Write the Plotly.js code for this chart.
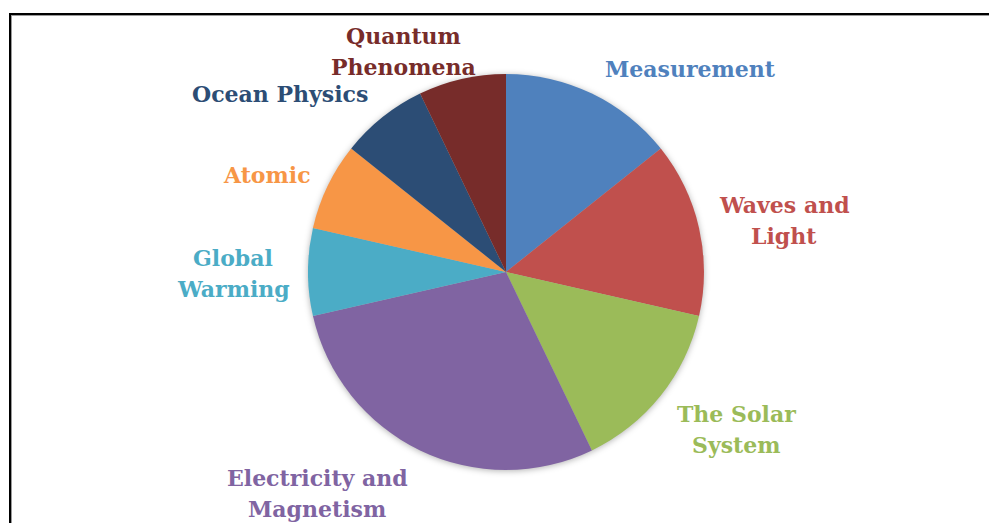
<!DOCTYPE html>
<html>
<head>
<meta charset="utf-8">
<script src="https://cdn.plot.ly/plotly-3.0.1.min.js"></script>
<style>
  html, body { margin: 0; padding: 0; background: #ffffff; }
  #chart { width: 989px; height: 523px; }
  #chart .pielayer { filter: drop-shadow(0px 1px 3px rgba(0,0,0,0.30)); }
</style>
</head>
<body>
<div id="chart"></div>
<script>
// ---- data ----
var categories = ["Measurement", "Waves and Light", "The Solar System", "Electricity and Magnetism",
                  "Global Warming", "Atomic", "Ocean Physics", "Quantum Phenomena"];
var displayLabels = ["Measurement", "Waves and<br>Light", "The Solar<br>System", "Electricity and<br>Magnetism",
                     "Global<br>Warming", "Atomic", "Ocean Physics", "Quantum<br>Phenomena"];
var values = [2, 2, 2, 4, 1, 1, 1, 1];
var colors = ["#4F81BD", "#C0504D", "#9BBB59", "#8064A2", "#4BACC6", "#F79646", "#2C4D75", "#772C2A"];

// ---- layout helpers (label placement in pixels, converted to paper) ----
var W = 989, H = 523;
var labelPx = [[690, 69], [784, 220.5], [736, 429.5], [317, 493.5], [233, 273.5], [267, 175], [280, 94], [403, 51.5]];
var lineGap = 31;

var annotations = [];
displayLabels.forEach(function (t, i) {
  var lines = t.split("<br>");
  var n = lines.length;
  lines.forEach(function (ln, k) {
    var py = labelPx[i][1] + (k - (n - 1) / 2) * lineGap;
    annotations.push({
      text: ln,
      x: labelPx[i][0] / W, y: 1 - py / H,
      xref: "paper", yref: "paper",
      xanchor: "center", yanchor: "middle",
      showarrow: false,
      align: "center",
      font: { family: "DejaVu Serif", size: 22, color: colors[i], weight: "bold" }
    });
  });
});

var cx = 506, cy = 272, R = 198;
var trace = {
  type: "pie",
  labels: categories,
  values: values,
  sort: false,
  direction: "clockwise",
  rotation: 0,
  textinfo: "none",
  hoverinfo: "label+percent",
  marker: { colors: colors, line: { width: 0 } },
  domain: { x: [(cx - R) / W, (cx + R) / W], y: [1 - (cy + R) / H, 1 - (cy - R) / H] },
  showlegend: false
};

var layout = {
  width: W, height: H,
  margin: { l: 0, r: 0, t: 0, b: 0 },
  paper_bgcolor: "#ffffff",
  showlegend: false,
  annotations: annotations,
  shapes: [
    { type: "line", xref: "paper", yref: "paper", x0: 10 / W, x1: 1.01, y0: 1 - 15.5 / H, y1: 1 - 15.5 / H,
      line: { color: "#9a9a9a", width: 1 } },
    { type: "line", xref: "paper", yref: "paper", x0: 11.5 / W, x1: 11.5 / W, y0: 1 - 14 / H, y1: -0.01,
      line: { color: "#9a9a9a", width: 1 } },
    { type: "line", xref: "paper", yref: "paper", x0: 9 / W, x1: 1.01, y0: 1 - 14 / H, y1: 1 - 14 / H,
      line: { color: "#000000", width: 2 } },
    { type: "line", xref: "paper", yref: "paper", x0: 10 / W, x1: 10 / W, y0: 1 - 13 / H, y1: -0.01,
      line: { color: "#000000", width: 2 } }
  ]
};

Plotly.newPlot("chart", [trace], layout, { displayModeBar: false, staticPlot: true });
</script>
</body>
</html>
